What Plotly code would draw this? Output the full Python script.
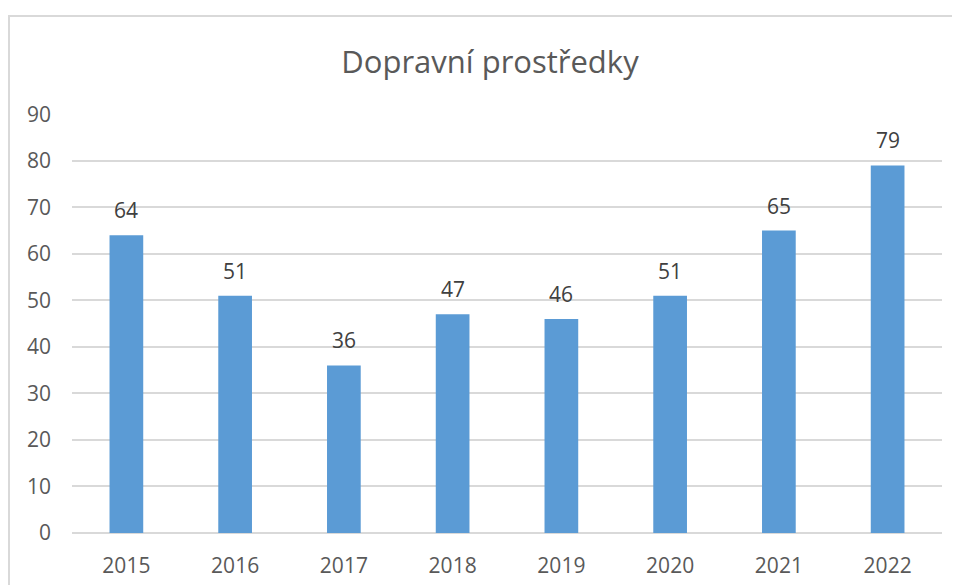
#! python
# -*- coding: utf-8 -*-

'''
Sloupcový graf: Dopravní prostředky podle let.
'''

import plotly.graph_objects as go

# data
years = ['2015', '2016', '2017', '2018', '2019', '2020', '2021', '2022']
counts = [64, 51, 36, 47, 46, 51, 65, 79]
y_ticks = [0, 10, 20, 30, 40, 50, 60, 70, 80, 90]

bar_color = '#5B9BD5'
text_color = '#595959'

fig = go.Figure(go.Bar(
  x=years,
  y=counts,
  marker=dict(color=bar_color, line=dict(width=0)),
  width=0.31,
))

# data labels above the bars (category index, since the years look numeric)
for i, val in enumerate(counts):
  fig.add_annotation(
    x=i, y=val, text=str(val), showarrow=False, yshift=25,
    font=dict(family='Open Sans', size=21, color='#404040'),
  )

# light frame round the chart (cut by the window on the right and bottom)
fig.add_shape(
  type='rect', xref='paper', yref='paper',
  x0=-0.0724, x1=1.05, y0=-0.2, y1=1.2339,
  line=dict(color='#D9D9D9', width=2), fillcolor='rgba(0,0,0,0)',
  layer='below',
)

# the page adds an 8px offset, so margins are measured from there
fig.update_layout(
  width=960, height=585,
  margin=dict(l=64, r=26, t=106, b=60),
  paper_bgcolor='white', plot_bgcolor='white',
  showlegend=False,
  font=dict(family='Open Sans', size=21, color=text_color),
  title=dict(
    text='Dopravní prostředky',
    x=482/960, xref='container', xanchor='center',
    y=1-54/585, yref='container', yanchor='middle',
    font=dict(family='Open Sans', size=31, color=text_color),
  ),
  xaxis=dict(
    type='category',
    showgrid=False, showline=False, zeroline=False,
    ticks='', ticklabelstandoff=18,
    tickfont=dict(size=21, color=text_color),
  ),
  yaxis=dict(
    range=[0, 90.05], tickvals=y_ticks,
    showgrid=True, gridcolor='#D9D9D9', gridwidth=2,
    zeroline=True, zerolinecolor='#D9D9D9', zerolinewidth=2,
    showline=False, ticks='', ticklabelstandoff=20,
    tickfont=dict(size=21, color=text_color),
  ),
)

fig.write_html('out.html')
